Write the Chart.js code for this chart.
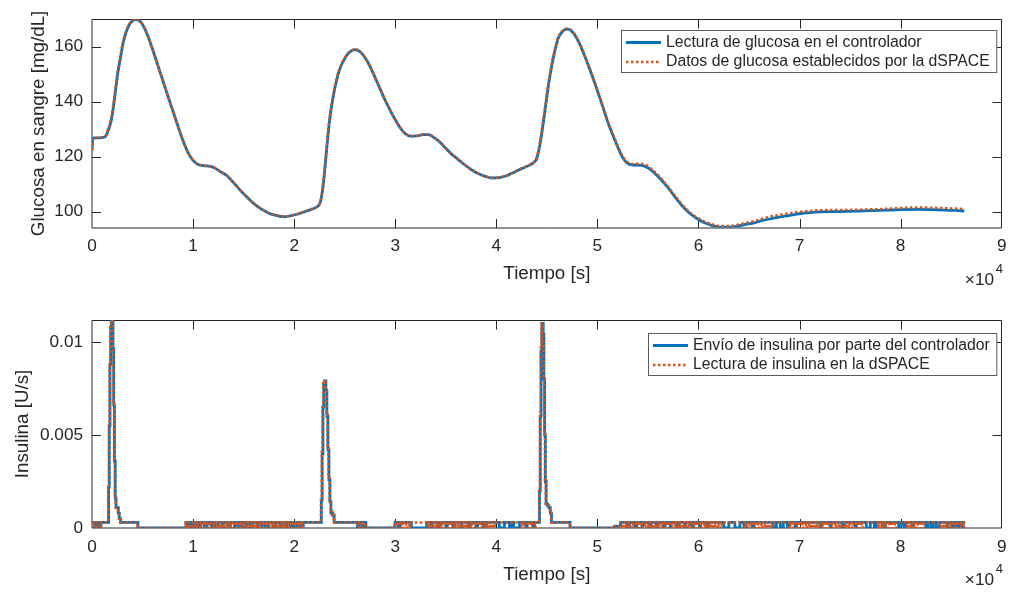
<!DOCTYPE html>
<html>
<head>
<meta charset="utf-8">
<script src="https://cdn.jsdelivr.net/npm/chart.js@4.4.1/dist/chart.umd.min.js"></script>
<style>
  html, body { margin: 0; padding: 0; background: #fff; }
  #wrap { position: relative; width: 1015px; height: 592px; }
  canvas { position: absolute; left: 0; }
  #glucosa { top: 0; }
  #insulina { top: 296px; }
</style>
</head>
<body>
<div id="wrap">
  <canvas id="glucosa" width="1015" height="296"></canvas>
  <canvas id="insulina" width="1015" height="296"></canvas>
</div>
<script>
// eje de tiempo (s), común a las dos gráficas
const timeTicks = [0, 10000, 20000, 30000, 40000, 50000, 60000, 70000, 80000, 90000];

// glucosa en sangre [mg/dL]
const glucoseTime = [0, 80, 700, 1300, 1600, 1900, 2200, 2500, 2800, 3100, 3400, 3700, 4000, 4350, 4700, 5000,
  5500, 6000, 6500, 7000, 7500, 8000, 8500, 9000, 9500, 10000, 10500, 11000, 11700, 12200, 12700, 13300, 14000,
  14700, 15400, 16100, 16800, 17500, 18200, 19000, 19700, 20400, 21100, 21700, 22300, 22600, 22800, 23000, 23200,
  23500, 23900, 24200, 24500, 25000, 25500, 26000, 26500, 27000, 27500, 28000, 28500, 29000, 29500, 30000, 30500,
  31000, 31500, 32200, 32800, 33300, 33800, 34400, 35000, 35600, 36200, 36800, 37500, 38200, 38900, 39600, 40300,
  41000, 41700, 42500, 43200, 43700, 44000, 44300, 44600, 44900, 45200, 45500, 45800, 46100, 46500, 47000, 47400,
  47800, 48300, 48800, 49300, 49800, 50300, 50700, 51200, 51700, 52100, 52500, 52900, 53400, 54000, 54600, 55200,
  55800, 56400, 57000, 57600, 58200, 58800, 59400, 60000, 60600, 61200, 61800, 62500, 63200, 64000, 64800, 65500,
  66200, 66900, 67700, 68500, 69300, 70000, 71000, 72000, 73000, 74000, 75000, 76000, 77000, 78500, 80000, 81800,
  83000, 84400, 85400, 86300];
const glucoseController = [122.2, 126.7, 126.8, 127.2, 129.5, 133, 140.1, 149, 155.6, 161.6, 165.5, 168, 169.3, 169.8, 169.3, 168,
  164.1, 158.9, 153.3, 147.7, 142.1, 136.6, 131.1, 125.8, 121.4, 118.6, 117.1, 116.7, 116.4, 115.7, 114.5, 113.2, 110.5,
  107.6, 105, 102.6, 100.8, 99.4, 98.6, 98.1, 98.5, 99.1, 100, 100.8, 101.8, 103.5, 107.5, 114, 122,
  133, 142.5, 147.8, 151.6, 155.6, 158, 158.9, 158.2, 156, 152.8, 148.8, 144.6, 140.5, 136.8, 133.4, 130.4,
  128.3, 127.4, 127.5, 128, 128, 127, 125.3, 123, 120.8, 119, 117.2, 115.3, 113.8, 112.8, 112.2, 112.3,
  113, 114.2, 115.6, 116.7, 117.8, 119.3, 124, 131, 139, 147, 153.3, 158.5, 162.8, 165.3, 166.3, 165.8,
  164, 160.5, 156, 151.2, 146, 140.7, 136.2, 130.8, 126.2, 122.7, 119.6, 117.8, 117, 116.9, 116.6, 115.4,
  113.5, 111.2, 108.6, 105.7, 102.9, 100.5, 98.6, 97.1, 95.9, 95.1, 94.5, 94.3, 94.3, 94.8, 95.4, 95.9,
  96.6, 97.2, 97.8, 98.3, 98.8, 99.2, 99.6, 99.9, 100, 100, 100.1, 100.2, 100.3, 100.5, 100.7, 100.8,
  100.7, 100.5, 100.4, 100.2];
const glucoseDspace = [122.2, 126.8, 126.9, 127.4, 130, 134, 141.3, 150.2, 156.6, 162.3, 165.9, 168.2, 169.4, 169.8, 169.3, 168,
  164.1, 158.9, 153.3, 147.7, 142.1, 136.6, 131.1, 125.8, 121.4, 118.6, 117.2, 116.8, 116.5, 115.8, 114.6, 113.3, 110.6,
  107.7, 105.1, 102.7, 100.9, 99.5, 98.7, 98.2, 98.6, 99.2, 100.1, 100.9, 101.9, 103.8, 108.5, 115.2, 123.3,
  134.2, 143.4, 148.5, 152.1, 155.9, 158.2, 159, 158.3, 156.1, 152.9, 148.9, 144.7, 140.6, 136.9, 133.5, 130.5,
  128.4, 127.5, 127.6, 128.1, 128.1, 127.1, 125.4, 123.1, 120.9, 119.1, 117.3, 115.4, 113.9, 112.9, 112.3, 112.4,
  113.1, 114.3, 115.7, 116.8, 117.9, 119.8, 125, 132.2, 140.2, 148, 154.1, 159.1, 163.2, 165.6, 166.6, 166,
  164.2, 160.8, 156.3, 151.5, 146.3, 141, 136.5, 131.2, 126.6, 123.1, 120.1, 118.2, 117.3, 117.4, 117.2, 116,
  114, 111.6, 109, 106.1, 103.3, 100.9, 99, 97.5, 96.3, 95.5, 94.9, 94.7, 94.8, 95.3, 96, 96.5,
  97.3, 98, 98.6, 99.1, 99.5, 99.9, 100.2, 100.5, 100.6, 100.6, 100.6, 100.7, 100.8, 101, 101.3, 101.5,
  101.4, 101.2, 101.1, 100.9];
const glucoseTicks = [100, 120, 140, 160];
const glucoseTickLabels = ['100', '120', '140', '160'];

// insulina [U/s]: nivel basal y cambios de nivel (cada valor se mantiene hasta el siguiente instante)
const insulinBasal = 0.0003;
const insulinSentT = [0, 1640, 1710, 1780, 1850, 1920, 2080, 2150, 2220, 2300, 2380, 2600, 2700, 2820, 4540, 9300,
  22690, 22770, 22850, 22930, 23010, 23140, 23240, 23340, 23440, 23540, 23640, 23800, 23960, 27100, 29980,
  44270, 44350, 44430, 44510, 44640, 44710, 44780, 44850, 44930, 45060, 45200, 45340, 45460, 47300, 51700, 52300, 86380];
const insulinSentV = [0.0003, 0.0022, 0.0055, 0.0088, 0.0108, 0.01118, 0.0096, 0.0066, 0.0036, 0.0016, 0.0011, 0.0008, 0.0005, 0.0003, 0, 0.0003,
  0.0015, 0.004, 0.0065, 0.0077, 0.0079, 0.0074, 0.006, 0.0042, 0.0026, 0.0014, 0.0008, 0.0007, 0.0003, 0, 0.0003,
  0.002, 0.006, 0.0095, 0.011, 0.0104, 0.008, 0.005, 0.0025, 0.0013, 0.0012, 0.0011, 0.0008, 0.0003, 0, 0.0001, 0.0003, 0.0003];
// tramos en que el envío cae a cero dentro del basal [inicio, fin]
const insulinSentGaps = [[250, 420], [700, 880],
  [9550, 9700], [9950, 10250], [10600, 10750], [11100, 11400], [11800, 11900], [12200, 12500], [12900, 13050],
  [13400, 13700], [14100, 14200], [14500, 14800], [15200, 15300], [15600, 15900], [16300, 16450], [16800, 17100],
  [17400, 17500], [17900, 18200], [18600, 18700], [19100, 19300], [19600, 19800], [20000, 20300], [20600, 20900],
  [26250, 26400], [26700, 26850],
  [30300, 30500], [31600, 33100], [33500, 33650], [34200, 34400], [35000, 35150], [35700, 35900], [36500, 36600],
  [37200, 37400], [38000, 38150], [38700, 38900], [40300, 40800], [41300, 41500], [41700, 42300], [42900, 43050],
  [43600, 43800],
  [53000, 53200], [53700, 53900], [54400, 54500], [55100, 55300], [55800, 55900], [56500, 56700], [57200, 57300],
  [57900, 58100], [58600, 58700], [59300, 59500], [60100, 60200], [60800, 61000], [62500, 63000], [63600, 64100],
  [64500, 64700], [65300, 65500], [67400, 67700], [68100, 68400], [68800, 69000], [69600, 69700], [72000, 72200],
  [73000, 73100], [74200, 74400], [75500, 75600], [76600, 77000], [77400, 77600], [78200, 78500], [79800, 80000],
  [80300, 80500], [81200, 81300], [82500, 82700], [83000, 83200], [83500, 83800], [84600, 84700], [85100, 85300],
  [85600, 85800], [86100, 86200]];

const insulinReadT = [0, 1600, 1670, 1740, 1810, 1880, 2040, 2110, 2180, 2260, 2340, 2560, 2660, 2780, 4500, 9260,
  22650, 22730, 22810, 22890, 22970, 23100, 23200, 23300, 23400, 23500, 23600, 23760, 23920, 27060, 29940,
  44230, 44310, 44390, 44470, 44600, 44670, 44740, 44810, 44890, 45020, 45160, 45300, 45420, 47260, 51660, 52260, 86380];
const insulinReadV = [0.0003, 0.0022, 0.0056, 0.0089, 0.0109, 0.01118, 0.0097, 0.0067, 0.0037, 0.0017, 0.0011, 0.0009, 0.0005, 0.0003, 0, 0.0003,
  0.0016, 0.0041, 0.0066, 0.0078, 0.0079, 0.0075, 0.0061, 0.0043, 0.0027, 0.0015, 0.0009, 0.0007, 0.0003, 0, 0.0003,
  0.0021, 0.0062, 0.0097, 0.01102, 0.0105, 0.0081, 0.0051, 0.0026, 0.0013, 0.0012, 0.0011, 0.0008, 0.0003, 0, 0.0001, 0.0003, 0.0003];
// la lectura de la dSPACE conmuta más a menudo entre basal y cero
const insulinReadGaps = [[300, 450], [750, 900],
  [9380, 9480], [9700, 9800], [10050, 10150], [10380, 10460], [10700, 10800], [11020, 11120], [11350, 11450],
  [11700, 11780], [12000, 12100], [12330, 12430], [12650, 12750], [12980, 13060], [13300, 13400], [13620, 13720],
  [13950, 14050], [14280, 14360], [14600, 14700], [14920, 15020], [15250, 15350], [15580, 15660], [15900, 16000],
  [16220, 16320], [16550, 16650], [16880, 16960], [17200, 17300], [17520, 17620], [17850, 17950], [18180, 18260],
  [18500, 18600], [18820, 18920], [19150, 19250], [19480, 19560], [19800, 19900], [20120, 20220], [20450, 20550],
  [20750, 20850],
  [26300, 26450], [26750, 26850],
  [30100, 30200], [30420, 30520], [30750, 30830], [31080, 31180], [31400, 31500], [33250, 33350], [33580, 33660],
  [33900, 34000], [34230, 34330], [34560, 34640], [34880, 34980], [35200, 35300], [35530, 35630], [35860, 35940],
  [36180, 36280], [36500, 36600], [36830, 36930], [37160, 37240], [37480, 37580], [37800, 37900], [38130, 38230],
  [38460, 38540], [38780, 38880], [39100, 39200], [39430, 39530], [39760, 39840], [42500, 42600], [42820, 42920],
  [43150, 43230], [43470, 43570], [43800, 43900],
  [52450, 52550], [52780, 52860], [53100, 53200], [53430, 53530], [53760, 53840], [54080, 54180], [54400, 54500],
  [54730, 54830], [55060, 55140], [55380, 55480], [55700, 55800], [56030, 56130], [56360, 56440], [56680, 56780],
  [57000, 57100], [57330, 57430], [57660, 57740], [57980, 58080], [58300, 58400], [58630, 58730], [58960, 59040],
  [59280, 59380], [59600, 59700], [59930, 60030], [60260, 60340], [60580, 60680], [60900, 61000], [61230, 61330],
  [61560, 61640], [61880, 61980], [62200, 62300], [64600, 64700], [64930, 65030], [65260, 65340], [65580, 65680],
  [65900, 66000], [66230, 66330], [66560, 66640], [66880, 66980], [67200, 67300], [69000, 69100], [69330, 69430],
  [69660, 69740], [69980, 70080], [70300, 70400], [70630, 70730], [70960, 71040], [71280, 71380], [71600, 71700],
  [71930, 72030], [72260, 72340], [72580, 72680], [72900, 73000], [73230, 73330], [73560, 73640], [73880, 73980],
  [74200, 74300], [74530, 74630], [74860, 74940], [75180, 75280], [75500, 75600], [75830, 75930], [76160, 76240],
  [77800, 77900], [78130, 78230], [78460, 78540], [78780, 78880], [79100, 79200], [79430, 79530], [80600, 80700],
  [80930, 81030], [81260, 81340], [81580, 81680], [81900, 82000], [82230, 82330], [83900, 84000], [84230, 84330],
  [84560, 84640], [84880, 84980], [85200, 85300], [85530, 85630], [85860, 85940], [86180, 86280]];
const insulinTicks = [0, 0.005, 0.01];
const insulinTickLabels = ['0', '0.005', '0.01'];

const BLUE = '#0072BD';
const RED = '#D95319';
const INK = '#262626';
const FONT = '"Liberation Sans", Arial, Helvetica, sans-serif';
const TICK_SIZE = 17.2;
const LABEL_SIZE = 18.8;

function pairs(xs, ys) {
  return xs.map((x, i) => ({ x, y: ys[i] }));
}

// puntos de la señal escalonada: cambios de nivel + caídas a cero
function steps(ts, vs, gaps) {
  const pts = pairs(ts, vs);
  gaps.forEach(([a, b]) => pts.push({ x: a, y: 0 }, { x: b, y: insulinBasal }));
  return pts.sort((p, q) => p.x - q.x);
}

// caja, marcas hacia dentro, multiplicador del eje x y leyenda
const matlabAxes = {
  id: 'matlabAxes',
  beforeDatasetsDraw(chart) {
    const { ctx, chartArea: a, scales: { x, y } } = chart;
    const left = Math.round(a.left), bottom = Math.round(a.bottom);
    const top = Math.floor(a.top) + 0.5, right = Math.ceil(a.right) - 0.5;
    const len = 9;
    ctx.save();
    ctx.strokeStyle = INK;
    ctx.lineWidth = 1;
    ctx.beginPath();
    ctx.rect(left, top, right - left, bottom - top);
    x.ticks.forEach(t => {
      const px = Math.round(x.getPixelForValue(t.value)) + 0.5;
      if (px < left + 2 || px > right - 2) return;
      ctx.moveTo(px, bottom); ctx.lineTo(px, bottom - len);
      ctx.moveTo(px, top); ctx.lineTo(px, top + len);
    });
    y.ticks.forEach(t => {
      const py = Math.round(y.getPixelForValue(t.value)) + 0.5;
      if (py < top + 2 || py > bottom - 2) return;
      ctx.moveTo(left, py); ctx.lineTo(left + len, py);
      ctx.moveTo(right, py); ctx.lineTo(right - len, py);
    });
    ctx.stroke();
    ctx.restore();
  },
  afterDraw(chart, args, opts) {
    const { ctx, chartArea: a } = chart;
    ctx.save();
    ctx.fillStyle = INK;
    ctx.textBaseline = 'alphabetic';
    ctx.textAlign = 'right';
    const base = a.bottom + 57;
    ctx.font = `${TICK_SIZE}px ${FONT}`;
    ctx.fillText('\u00d710', 994, base);
    ctx.font = `13px ${FONT}`;
    ctx.fillText('4', 1003, base - 12);

    // leyenda
    const sets = chart.data.datasets;
    ctx.font = `15.8px ${FONT}`;
    const maxW = Math.max(...sets.map(d => ctx.measureText(d.label).width));
    const boxW = 4.5 + 35 + 5 + maxW + 7;
    const boxL = Math.round(996 - boxW) + 0.5;
    const boxT = opts.legendTop + 0.5;
    ctx.fillStyle = '#fff';
    ctx.fillRect(boxL, boxT, boxW, 42);
    ctx.strokeStyle = '#5a5a5a';
    ctx.lineWidth = 1;
    ctx.strokeRect(boxL, boxT, boxW, 42);
    sets.forEach((d, i) => {
      const ry = boxT + 12 + i * 19.5;
      ctx.strokeStyle = d.borderColor;
      ctx.lineWidth = d.borderWidth;
      ctx.setLineDash(d.borderDash || []);
      ctx.beginPath();
      ctx.moveTo(boxL + 4.5, ry);
      ctx.lineTo(boxL + 39.5, ry);
      ctx.stroke();
      ctx.setLineDash([]);
      ctx.fillStyle = INK;
      ctx.textAlign = 'left';
      ctx.textBaseline = 'middle';
      ctx.fillText(d.label, boxL + 44.5, ry);
    });
    ctx.restore();
  }
};

function axesOptions(cfg) {
  return {
    responsive: false,
    animation: false,
    events: [],
    layout: { padding: { top: cfg.top, right: 8, left: 0, bottom: 0 } },
    plugins: {
      legend: { display: false },
      tooltip: { enabled: false },
      matlabAxes: { legendTop: cfg.legendTop }
    },
    scales: {
      x: {
        type: 'linear',
        min: 0,
        max: 90000,
        afterBuildTicks: s => { s.ticks = timeTicks.map(v => ({ value: v })); },
        afterFit: s => { s.height = cfg.xHeight; },
        grid: { display: false, drawTicks: false },
        border: { display: false },
        ticks: {
          padding: 8.5, color: INK, autoSkip: false, maxRotation: 0,
          font: { family: FONT, size: TICK_SIZE },
          callback: v => String(v / 10000)
        },
        title: {
          display: true, text: 'Tiempo [s]', color: INK,
          font: { family: FONT, size: LABEL_SIZE },
          padding: { top: 0, bottom: cfg.xTitlePad }
        }
      },
      y: {
        type: 'linear',
        min: cfg.yMin,
        max: cfg.yMax,
        afterBuildTicks: s => { s.ticks = cfg.yTicks.map(v => ({ value: v })); },
        afterFit: s => { s.width = 92; },
        grid: { display: false, drawTicks: false },
        border: { display: false },
        ticks: {
          padding: 9, color: INK, autoSkip: false,
          font: { family: FONT, size: TICK_SIZE },
          callback: (v, i) => cfg.yLabels[i]
        },
        title: {
          display: true, text: cfg.yTitle, color: INK,
          font: { family: FONT, size: LABEL_SIZE },
          padding: { top: cfg.yTitlePad, bottom: 0 }
        }
      }
    }
  };
}

new Chart(document.getElementById('glucosa'), {
  type: 'line',
  data: {
    datasets: [
      {
        label: 'Lectura de glucosa en el controlador',
        data: pairs(glucoseTime, glucoseController),
        borderColor: BLUE, borderWidth: 2.8, pointRadius: 0,
        cubicInterpolationMode: 'monotone', order: 1
      },
      {
        label: 'Datos de glucosa establecidos por la dSPACE',
        data: pairs(glucoseTime, glucoseDspace),
        borderColor: RED, borderWidth: 2.5, borderDash: [2.5, 2.5], pointRadius: 0,
        cubicInterpolationMode: 'monotone', order: 0
      }
    ]
  },
  options: axesOptions({
    top: 19, xHeight: 68.5, xTitlePad: 10.5, legendTop: 30,
    yMin: 94.2, yMax: 169.9, yTicks: glucoseTicks, yLabels: glucoseTickLabels,
    yTitle: 'Glucosa en sangre [mg/dL]', yTitlePad: 28
  }),
  plugins: [matlabAxes]
});

new Chart(document.getElementById('insulina'), {
  type: 'line',
  data: {
    datasets: [
      {
        label: 'Envío de insulina por parte del controlador',
        data: steps(insulinSentT, insulinSentV, insulinSentGaps),
        borderColor: BLUE, borderWidth: 2.8, pointRadius: 0,
        stepped: true, order: 1
      },
      {
        label: 'Lectura de insulina en la dSPACE',
        data: steps(insulinReadT, insulinReadV, insulinReadGaps),
        borderColor: RED, borderWidth: 2.5, borderDash: [2.5, 2.5], pointRadius: 0,
        stepped: true, order: 0
      }
    ]
  },
  options: axesOptions({
    top: 24, xHeight: 64, xTitlePad: 5.5, legendTop: 37,
    yMin: 0, yMax: 0.01118, yTicks: insulinTicks, yLabels: insulinTickLabels,
    yTitle: 'Insulina [U/s]', yTitlePad: 12
  }),
  plugins: [matlabAxes]
});
</script>
</body>
</html>
